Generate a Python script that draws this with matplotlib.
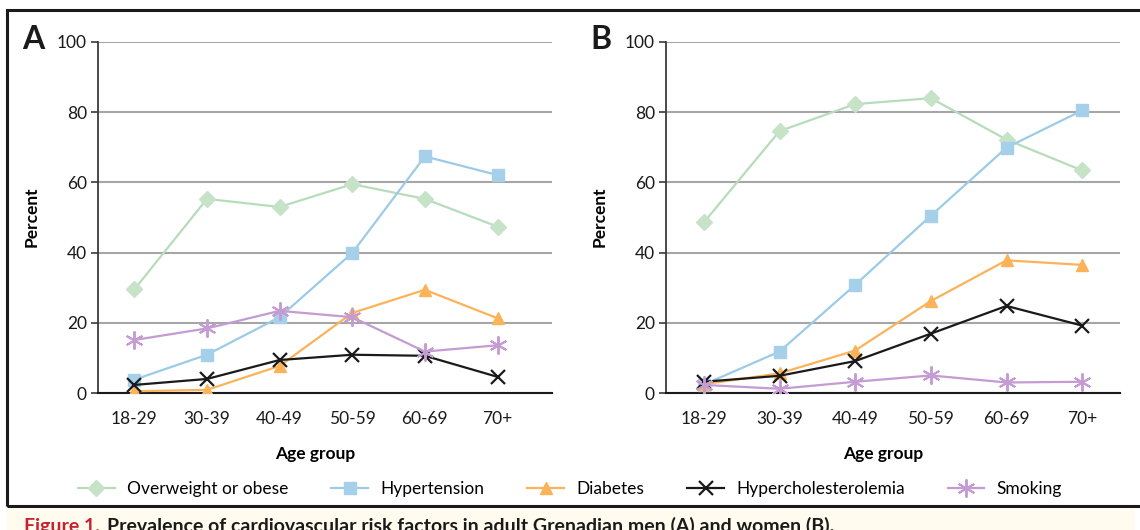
import matplotlib.pyplot as plt
from matplotlib.patches import Rectangle

plt.rcParams['font.family'] = ['Lato', 'DejaVu Sans']

age_groups = ['18-29', '30-39', '40-49', '50-59', '60-69', '70+']
series_names = ['Overweight or obese', 'Hypertension', 'Diabetes',
                'Hypercholesterolemia', 'Smoking']

# men (A)
men_overweight = [29.5, 55.3, 53.0, 59.5, 55.3, 47.4]
men_hypertension = [3.8, 10.9, 21.6, 39.9, 67.4, 62.1]
men_diabetes = [0.5, 0.9, 7.7, 22.8, 29.4, 21.3]
men_cholesterol = [2.3, 4.0, 9.4, 10.9, 10.6, 4.6]
men_smoking = [15.1, 18.4, 23.4, 21.6, 11.8, 13.6]

# women (B)
women_overweight = [48.6, 74.6, 82.3, 84.0, 72.2, 63.4]
women_hypertension = [2.4, 11.8, 30.8, 50.5, 69.9, 80.5]
women_diabetes = [2.5, 5.6, 12.1, 26.2, 37.8, 36.5]
women_cholesterol = [3.2, 4.9, 9.1, 16.9, 24.8, 19.2]
women_smoking = [2.3, 1.2, 3.2, 5.0, 3.0, 3.2]

styles = [
    dict(color='#b7dcbb', marker='D', markersize=8, mfc='#c6e3c8', mec='#c6e3c8', lw=1.6),
    dict(color='#9ccbe8', marker='s', markersize=9, mfc='#a6cfe9', mec='#a6cfe9', lw=1.6),
    dict(color='#fbb35a', marker='^', markersize=9, mfc='#fbb35a', mec='#fbb35a', lw=1.6),
    dict(color='#1a1a1a', marker='x', markersize=10, mew=1.6, lw=1.6),
    dict(color='#c49bd2', marker=(6, 2, 0), markersize=13, mew=1.4, lw=1.6),
]

fig = plt.figure(figsize=(11.4, 5.3), dpi=100)

# outer frame and caption strip
fig.patches.append(Rectangle((7 / 1140, 1 - 506 / 530), 1.2, 496 / 530,
                             transform=fig.transFigure, fill=False,
                             lw=2.2, ec='#1a1a1a'))
fig.patches.append(Rectangle((7 / 1140, 0), 1128 / 1140, 21 / 530,
                             transform=fig.transFigure, fc='#fffbee', ec='none'))

panels = [
    ('A', [98, 552, 0.5, 5.75], [men_overweight, men_hypertension, men_diabetes,
                                 men_cholesterol, men_smoking]),
    ('B', [666, 1120, 0.5, 5.5], [women_overweight, women_hypertension, women_diabetes,
                                  women_cholesterol, women_smoking]),
]

handles = []
for label, (x0, x1, lpad, rlim), data in panels:
    ax = fig.add_axes([x0 / 1140, 1 - 393 / 530, (x1 - x0) / 1140, 351 / 530])
    xs = range(len(age_groups))
    lines = []
    for name, vals, st in zip(series_names, data, styles):
        ln, = ax.plot(xs, vals, label=name, zorder=3, **st)
        lines.append(ln)
    handles = lines
    ax.set_xlim(-lpad, rlim)
    ax.set_ylim(0, 100)
    ax.set_yticks([0, 20, 40, 60, 80, 100])
    ax.set_xticks(list(xs))
    ax.set_xticklabels(age_groups)
    ax.grid(axis='y', color='#a6a6a6', lw=1.5)
    ax.set_axisbelow(True)
    for s in ['top', 'right']:
        ax.spines[s].set_visible(False)
    ax.spines['left'].set_color('#3a3a3a')
    ax.spines['left'].set_linewidth(1.3)
    ax.spines['bottom'].set_color('#1a1a1a')
    ax.spines['bottom'].set_linewidth(1.5)
    ax.tick_params(axis='y', length=5, width=1.2, color='#3a3a3a', labelsize=12.5,
                   pad=3, labelcolor='#1a1a1a')
    ax.tick_params(axis='x', length=0, labelsize=12.5, pad=13, labelcolor='#1a1a1a')
    fig.text((x0 - 66) / 1140, 1 - 217 / 530, 'Percent', rotation=90,
             ha='center', va='center', fontsize=12.5, fontweight='bold')
    fig.text(((x0 + x1) / 2 - 10) / 1140, 1 - 454 / 530, 'Age group',
             ha='center', va='center', fontsize=12.5, fontweight='bold')
    fig.text((x0 - 76) / 1140, 1 - 49 / 530, label, ha='left', va='baseline',
             fontsize=23, fontweight='bold', color='#1a1a1a')

fig.legend(handles, series_names, loc='center', bbox_to_anchor=(0.5, 1 - 489 / 530),
           ncol=5, frameon=False, fontsize=12.5, handlelength=2.1,
           columnspacing=2.5, handletextpad=0.7)

fig.text(24 / 1140, -2 / 530, 'Figure 1.', ha='left', va='baseline',
         fontsize=14, fontweight='bold', color='#c8202f')
fig.text(107 / 1140, -2 / 530,
         'Prevalence of cardiovascular risk factors in adult Grenadian men (A) and women (B).',
         ha='left', va='baseline', fontsize=14, fontweight='bold', color='#1a1a1a')

fig.savefig('out.png', dpi=100)
